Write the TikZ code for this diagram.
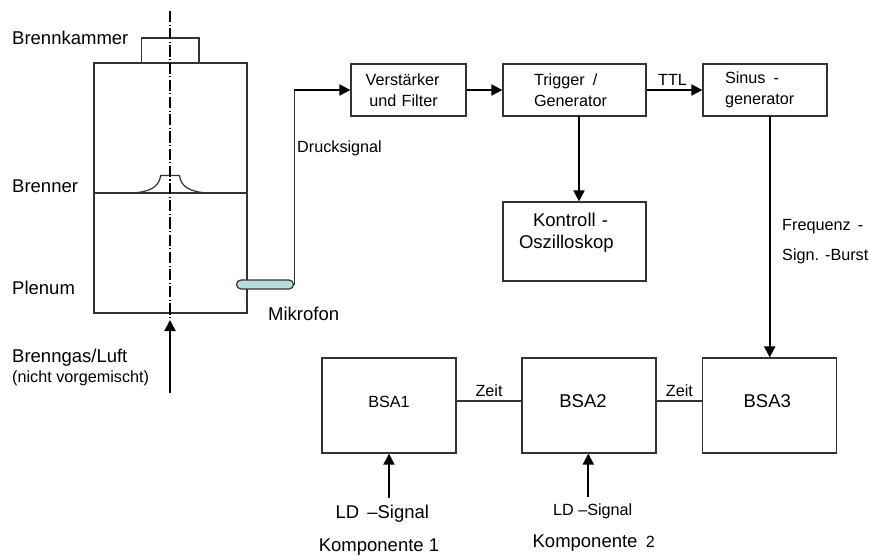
\documentclass[tikz,border=0pt]{standalone}
\usepackage{fontspec}
\setmainfont{Liberation Sans}
\usetikzlibrary{arrows.meta,positioning,shapes.misc}
\definecolor{mikfill}{HTML}{B5DDE0}
\newcommand{\fbig}{\fontsize{18.5}{22}\selectfont}
\newcommand{\fsmall}{\fontsize{16.2}{20.5}\selectfont}

\begin{document}
\begin{tikzpicture}[
  x=1pt, y=-1pt,
  box/.style={draw=black!80, line width=1.2pt, align=left, inner sep=0pt},
  bsa/.style={box, align=center, minimum height=95pt, text depth=8pt},
  lab/.style={anchor=west, inner sep=0pt, align=left},
  wire/.style={draw=black!80, line width=1.2pt},
  arr/.style={-{Triangle[length=11pt,width=11pt]}, line width=2pt}
]
\useasboundingbox (0,0) rectangle (869,556);

% Brennkammer
\node[box, minimum width=153pt, minimum height=250pt] (kammer) at (170.5,188) {};
\node[box, minimum width=57.5pt, minimum height=25pt] (kopf) at (170.25,50.5) {};
\coordinate (brl) at (94,193);
\coordinate (brr) at (247,193);
\draw[wire] (brl) -- (brr);
\coordinate (br1) at (132,193);
\coordinate (br2) at (160.7,175.5);
\coordinate (br3) at (179.5,175.5);
\coordinate (br4) at (208,193);
\draw[wire] (br1) .. controls (150,192) and (159,187) .. (br2) -- (br3)
  .. controls (181,187) and (190,192) .. (br4);
\coordinate (axt) at (170,11);
\coordinate (axb) at (170,318);
\draw[line width=1.5pt, dash pattern=on 11.2pt off 2.5pt on 1pt off 2.5pt] (axt) -- (axb);

\node[lab, font=\fbig] (lkammer) at (12,38) {Brennkammer};
\node[lab, font=\fbig] (lbrenner) at (12,186) {Brenner};
\node[lab, font=\fbig] (lplenum) at (12,288) {Plenum};
\node[lab, font=\fbig] (lgas) at (12,358) {Brenngas/Luft};
\node[lab, font=\fsmall] (lvor) at (12,378) {(nicht vorgemischt)};
\coordinate (gas) at (170,393);
\coordinate (gasend) at (170,320);
\draw[arr] (gas) -- (gasend);

% Signalkette
\node[box, text width=115pt, minimum height=52pt, font=\fsmall] (verst) at (408.5,90) {\hspace*{14.7pt}Verst\"arker\\\hspace*{18.3pt}und Filter};
\node[box, text width=143pt, minimum height=52pt, font=\fsmall] (trig) at (574.5,90) {\hspace*{31pt}Trigger \,/\\\hspace*{31pt}Generator};
\node[box, text width=124pt, minimum height=52pt, font=\fsmall] (sinus) at (765,90) {\hspace*{22pt}Sinus \,-\\\hspace*{22pt}generator};
\node[box, text width=143pt, minimum height=79pt, font=\fbig] (kontroll) at (574.5,241.5) {\hspace*{30pt}Kontroll -\\\hspace*{16pt}Oszilloskop\\\mbox{}};

% Mikrofon
\node[draw=black!80, line width=1.2pt, fill=mikfill, rounded rectangle,
  minimum width=57pt, minimum height=9pt, inner sep=0pt] (mik) at (265,284.5) {};
\node[lab, font=\fbig] (lmik) at (268,314) {Mikrofon};
\coordinate (knick) at (mik.east |- verst.west);
\draw[wire] (mik.east) -- (knick);
\draw[arr] (knick) -- (verst);
\draw[arr] (verst) -- (trig);
\draw[arr] (trig) -- node[above=0.5pt, xshift=-2pt, font=\fsmall] {TTL} (sinus);
\coordinate (ko) at (579,116);
\draw[arr] (ko) -- (kontroll.north -| ko);
\node[lab, font=\fsmall] (ldruck) at (297,148) {Drucksignal};

% BSA
\node[bsa, minimum width=134pt, font=\fsmall] (bsa1) at (389,405.5) {BSA1};
\node[bsa, minimum width=134pt, font=\fbig] (bsa2) at (589,405.5) {BSA2\hspace*{12pt}};
\node[bsa, minimum width=134pt, font=\fbig] (bsa3) at (769.8,405.5) {BSA3\hspace*{5pt}};
\draw[wire] (bsa1.east |- 0,401) -- node[above=0.5pt, font=\fsmall] {Zeit} (bsa2.west |- 0,401);
\draw[wire] (bsa2.east |- 0,401) -- node[above=0.5pt, font=\fsmall] {Zeit} (bsa3.west |- 0,401);
\coordinate (si) at (769.7,116);
\draw[arr] (si) -- (bsa3.north -| si);
\node[lab, font=\fsmall] (lfreq) at (782,226.7) {Frequenz\, -};
\node[lab, font=\fsmall] (lburst) at (782,256) {Sign. -Burst};

\coordinate (ld1) at (389,497.5);
\coordinate (ld2) at (588.3,497);
\draw[arr] (ld1) -- (bsa1.south -| ld1);
\draw[arr] (ld2) -- (bsa2.south -| ld2);
\node[font=\fbig, inner sep=0pt] (lld1) at (382.3,514) {LD \,--Signal};
\node[font=\fbig, inner sep=0pt] (lk1) at (379,546.7) {Komponente 1};
\node[font=\fsmall, inner sep=0pt] (lld2) at (592.7,511.7) {LD --Signal};
\node[font=\fbig, inner sep=0pt] (lk2) at (593.7,542.7) {Komponente \,{\fsmall 2}};
\end{tikzpicture}
\end{document}
